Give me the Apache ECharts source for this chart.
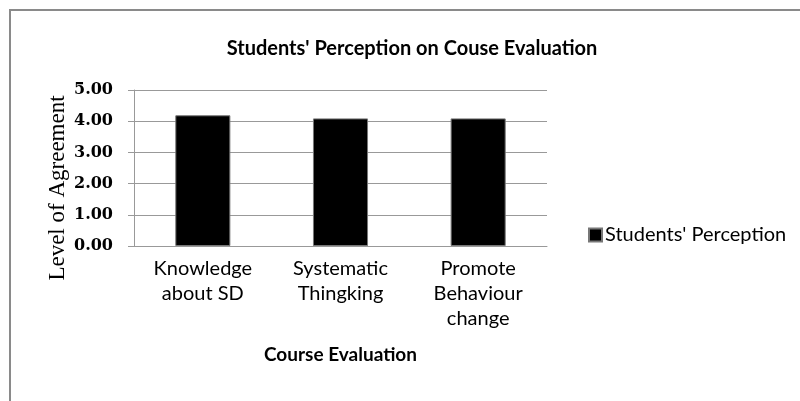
<!DOCTYPE html>
<html>
<head>
<meta charset="utf-8">
<script src="https://cdn.jsdelivr.net/npm/echarts@6/dist/echarts.min.js"></script>
<style>
  html, body { margin: 0; padding: 0; background: #fff; }
  #chart { width: 800px; height: 401px; }
</style>
</head>
<body>
<div id="chart"></div>
<script>
// Course evaluation categories and mean agreement scores
const categories = ['Knowledge\nabout SD', 'Systematic\nThingking', 'Promote\nBehaviour\nchange'];
const perception = [4.19, 4.09, 4.09];
const seriesName = "Students' Perception";
const yTicks = [0, 1, 2, 3, 4, 5];

const chart = echarts.init(document.getElementById('chart'), null, { renderer: 'canvas' });

const option = {
  backgroundColor: '#ffffff',
  animation: false,
  title: {
    text: "Students' Perception on Couse Evaluation",
    left: 407,
    top: 34,
    textAlign: 'center',
    textStyle: { fontFamily: 'Lato', fontWeight: 'bold', fontSize: 20, color: '#000' }
  },
  legend: {
    data: [seriesName],
    left: 583,
    top: 220,
    icon: 'rect',
    itemWidth: 13,
    itemHeight: 13,
    textStyle: { fontFamily: 'Lato', fontSize: 20, color: '#000', padding: [0, 0, 0, -2] }
  },
  grid: { left: 134, right: 253, top: 90, bottom: 155, containLabel: false },
  xAxis: {
    type: 'category',
    data: categories,
    name: 'Course Evaluation',
    nameLocation: 'middle',
    nameGap: 99,
    nameTextStyle: { fontFamily: 'Lato', fontWeight: 'bold', fontSize: 19, color: '#000' },
    axisLine: { lineStyle: { color: '#999', width: 1 } },
    axisTick: { show: false },
    axisLabel: {
      fontFamily: 'Lato', fontSize: 20, color: '#000', lineHeight: 25, margin: 10, interval: 0
    }
  },
  yAxis: {
    type: 'value',
    min: yTicks[0],
    max: yTicks[yTicks.length - 1],
    interval: 1,
    axisLine: { show: true, lineStyle: { color: '#999', width: 1 } },
    axisTick: { show: true, length: 6, lineStyle: { color: '#999' } },
    splitLine: { lineStyle: { color: '#999', width: 1 } },
    axisLabel: {
      fontFamily: 'DejaVu Serif', fontWeight: 'bold', fontSize: 16, color: '#000', margin: 21,
      formatter: v => v.toFixed(2)
    }
  },
  graphic: [
    {
      // outer frame of the chart area
      type: 'polyline',
      shape: { points: [[10, 402], [10, 10], [801, 10]] },
      style: { stroke: '#8a8a8a', lineWidth: 2, fill: null },
      silent: true
    },
    {
      // vertical value-axis title
      type: 'text',
      x: 58,
      y: 188,
      rotation: Math.PI / 2,
      style: {
        text: 'Level of Agreement',
        fontFamily: 'Liberation Serif',
        fontSize: 23,
        fill: '#000',
        align: 'center',
        verticalAlign: 'middle'
      },
      silent: true
    }
  ],
  series: [{
    name: seriesName,
    type: 'bar',
    data: perception,
    barCategoryGap: '60%',
    itemStyle: { color: '#000', borderColor: '#777', borderWidth: 1 }
  }]
};

chart.setOption(option);
</script>
</body>
</html>
